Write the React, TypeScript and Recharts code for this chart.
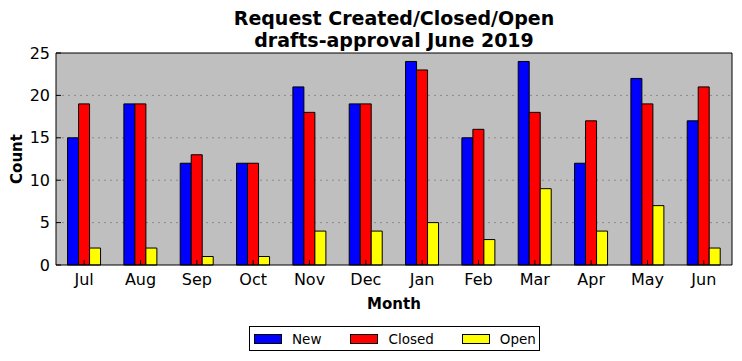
import React from 'react';
import {
  BarChart,
  Bar,
  XAxis,
  YAxis,
  CartesianGrid,
} from 'recharts';

const months = ['Jul', 'Aug', 'Sep', 'Oct', 'Nov', 'Dec', 'Jan', 'Feb', 'Mar', 'Apr', 'May', 'Jun'];
const newCounts = [15, 19, 12, 12, 21, 19, 24, 15, 24, 12, 22, 17];
const closedCounts = [19, 19, 13, 12, 18, 19, 23, 16, 18, 17, 19, 21];
const openCounts = [2, 2, 1, 1, 4, 4, 5, 3, 9, 4, 7, 2];
const yTicks = [0, 5, 10, 15, 20, 25];

const series = [
  { key: 'New', color: '#0000ff', gap: 29 },
  { key: 'Closed', color: '#ff0000', gap: 28 },
  { key: 'Open', color: '#ffff00', gap: 0 },
];

const FONT = '"DejaVu Sans", sans-serif';

// 图例：带边框的一行，放在图表下方
const LegendBox = () => (
  <div
    style={{
      position: 'absolute',
      left: 249,
      top: 326,
      display: 'flex',
      alignItems: 'center',
      border: '1px solid #000',
      background: '#fff',
      padding: '0 4px',
      fontFamily: FONT,
      fontSize: 13.5,
      width: 281,
      height: 23,
    }}
  >
    {series.map(s => (
      <div key={s.key} style={{ display: 'flex', alignItems: 'center', marginRight: s.gap }}>
        <span
          style={{
            display: 'inline-block',
            width: 26,
            height: 8,
            background: s.color,
            border: '1px solid #000',
            marginRight: 10,
          }}
        />
        <span>{s.key}</span>
      </div>
    ))}
  </div>
);

const App: React.FC = () => {
  const data = months.map((m, i) => ({
    month: m,
    New: newCounts[i],
    Closed: closedCounts[i],
    Open: openCounts[i],
  }));

  return (
    <div style={{ position: 'absolute', left: 0, top: 0, width: 742, height: 361, background: '#fff' }}>
      <div
        style={{
          position: 'absolute',
          left: 56,
          width: 676,
          top: 7,
          textAlign: 'center',
          fontFamily: FONT,
          fontWeight: 'bold',
          fontSize: 19,
          lineHeight: '22px',
        }}
      >
        Request Created/Closed/Open
        <br />
        drafts-approval June 2019
      </div>
      <BarChart
        width={742}
        height={361}
        data={data}
        margin={{ top: 52, right: 9, left: 16, bottom: 66 }}
        barCategoryGap="20.5%"
        barGap={0}
        style={{ fontFamily: FONT }}
      >
        <CartesianGrid
          vertical={false}
          horizontalValues={[5, 10, 15, 20]}
          yAxisId="left"
          xAxisId="bottom"
          fill="#bfbfbf"
          stroke="#8a8a8a"
          strokeDasharray="2 4"
        />
        <XAxis
          dataKey="month"
          xAxisId="bottom"
          height={30}
          axisLine={{ stroke: '#000', strokeWidth: 1 }}
          tickLine={{ stroke: '#000' }}
          tickSize={-5}
          tickMargin={14}
          tick={{ fill: '#000', fontSize: 16 }}
          label={{ value: 'Month', position: 'insideBottom', offset: -14, fill: '#000', fontSize: 15, fontWeight: 'bold' }}
        />
        <XAxis
          dataKey="month"
          xAxisId="top"
          orientation="top"
          height={1}
          axisLine={{ stroke: '#000', strokeWidth: 1 }}
          tickLine={{ stroke: '#000' }}
          tickSize={-5}
          tick={false}
        />
        <YAxis
          yAxisId="left"
          width={40}
          domain={[0, 25]}
          ticks={yTicks}
          axisLine={{ stroke: '#000', strokeWidth: 1 }}
          tickLine={{ stroke: '#000' }}
          tickSize={-5}
          tickMargin={11}
          tick={{ fill: '#000', fontSize: 16 }}
          label={{ value: 'Count', angle: -90, position: 'insideLeft', offset: 1, fill: '#000', fontSize: 15, fontWeight: 'bold', style: { textAnchor: 'middle' } }}
        />
        <YAxis
          yAxisId="right"
          orientation="right"
          width={1}
          domain={[0, 25]}
          ticks={yTicks}
          axisLine={{ stroke: '#000', strokeWidth: 1 }}
          tickLine={{ stroke: '#000' }}
          tickSize={-5}
          tick={false}
        />
        {series.map(s => (
          <Bar
            key={s.key}
            dataKey={s.key}
            xAxisId="bottom"
            yAxisId="left"
            fill={s.color}
            stroke="#000"
            strokeWidth={1}
            isAnimationActive={false}
          />
        ))}
      </BarChart>
      <LegendBox />
    </div>
  );
};

export default App;
